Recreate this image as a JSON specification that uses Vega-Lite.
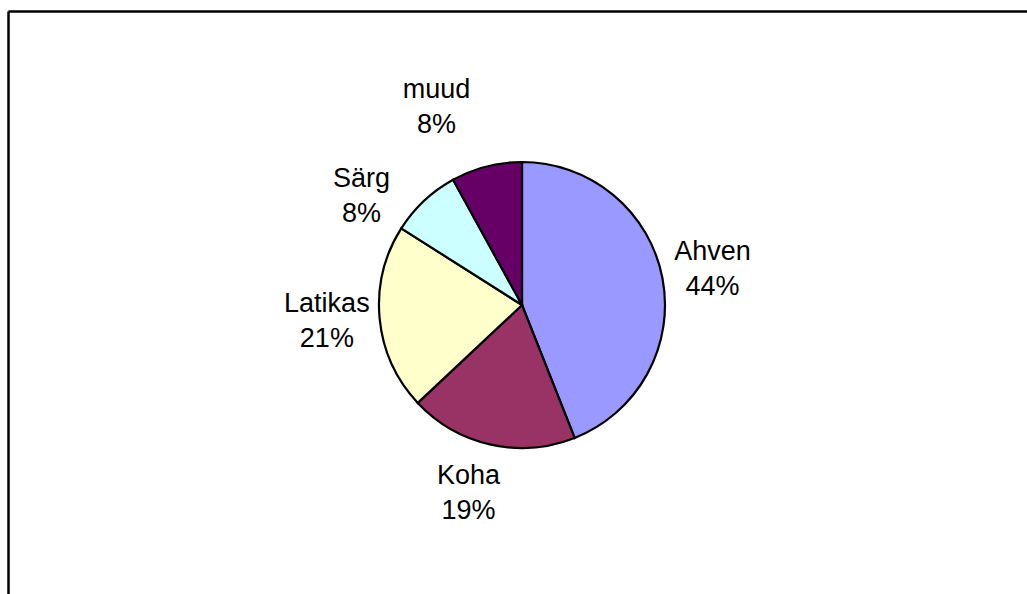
{
  "$schema": "https://vega.github.io/schema/vega-lite/v6.json",
  "width": 1027,
  "height": 594,
  "autosize": {"type": "fit", "contains": "padding"},
  "padding": {"left": 8, "top": 11, "right": 0, "bottom": 0},
  "background": "white",
  "config": {"view": {"stroke": null}},
  "data": {
    "values": [
      {"fish": "Ahven", "share": 44, "label": ["Ahven", "44%"]},
      {"fish": "Koha", "share": 19, "label": ["Koha", "19%"]},
      {"fish": "Latikas", "share": 21, "label": ["Latikas", "21%"]},
      {"fish": "Särg", "share": 8, "label": ["Särg", "8%"]},
      {"fish": "muud", "share": 8, "label": ["muud", "8%"]}
    ]
  },
  "encoding": {
    "theta": {"field": "share", "type": "quantitative", "stack": true},
    "x": {
      "datum": 0,
      "type": "quantitative",
      "scale": {"domain": [-1, 0.9825], "nice": false, "zero": false},
      "axis": {"orient": "top", "labels": false, "ticks": false, "grid": false, "title": null, "domainColor": "#000000", "domainWidth": 2.5}
    },
    "y": {
      "datum": 0,
      "type": "quantitative",
      "scale": {"domain": [-1, 1.0173], "nice": false, "zero": false},
      "axis": {"orient": "left", "labels": false, "ticks": false, "grid": false, "title": null, "domainColor": "#000000", "domainWidth": 2.5}
    }
  },
  "layer": [
    {
      "mark": {"type": "arc", "radius": 143, "stroke": "#000000", "strokeWidth": 2.2},
      "encoding": {
        "color": {
          "field": "fish",
          "type": "nominal",
          "scale": {"domain": ["Ahven", "Koha", "Latikas", "Särg", "muud"], "range": ["#9999FF", "#993366", "#FFFFCC", "#CCFFFF", "#660066"]},
          "legend": null
        }
      }
    },
    {
      "mark": {"type": "text", "radius": 195, "dx": -1, "dy": -16, "font": "Liberation Sans", "fontSize": 27, "lineHeight": 35, "align": "center", "baseline": "middle", "fill": "#000000"},
      "encoding": {
        "detail": {"field": "fish", "type": "nominal"},
        "text": {"value": "", "condition": {"test": "datum.fish === 'Ahven'", "field": "label", "type": "nominal"}}
      }
    },
    {
      "mark": {"type": "text", "radius": 195, "dx": -1, "dy": -19, "font": "Liberation Sans", "fontSize": 27, "lineHeight": 35, "align": "center", "baseline": "middle", "fill": "#000000"},
      "encoding": {
        "detail": {"field": "fish", "type": "nominal"},
        "text": {"value": "", "condition": {"test": "datum.fish === 'Latikas'", "field": "label", "type": "nominal"}}
      }
    },
    {
      "mark": {"type": "text", "radius": 195, "dx": -11, "dy": -19, "font": "Liberation Sans", "fontSize": 27, "lineHeight": 35, "align": "center", "baseline": "middle", "fill": "#000000"},
      "encoding": {
        "detail": {"field": "fish", "type": "nominal"},
        "text": {"value": "", "condition": {"test": "datum.fish === 'Koha'", "field": "label", "type": "nominal"}}
      }
    },
    {
      "mark": {"type": "text", "radius": 195, "dx": -27, "dy": 16, "font": "Liberation Sans", "fontSize": 27, "lineHeight": 35, "align": "center", "baseline": "middle", "fill": "#000000"},
      "encoding": {
        "detail": {"field": "fish", "type": "nominal"},
        "text": {"value": "", "condition": {"test": "datum.fish === 'Särg'", "field": "label", "type": "nominal"}}
      }
    },
    {
      "mark": {"type": "text", "radius": 195, "dx": -37, "dy": -26, "font": "Liberation Sans", "fontSize": 27, "lineHeight": 35, "align": "center", "baseline": "middle", "fill": "#000000"},
      "encoding": {
        "detail": {"field": "fish", "type": "nominal"},
        "text": {"value": "", "condition": {"test": "datum.fish === 'muud'", "field": "label", "type": "nominal"}}
      }
    }
  ]
}
